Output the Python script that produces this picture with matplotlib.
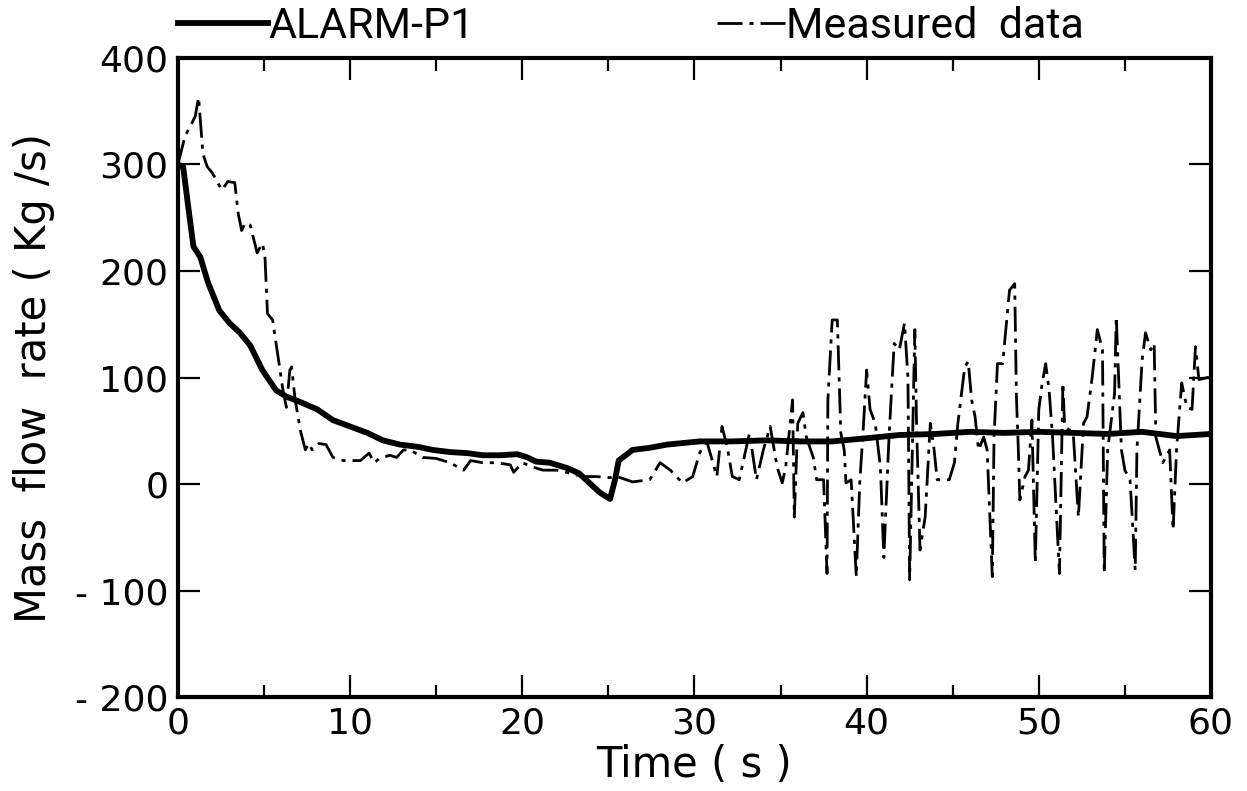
import numpy as np
import matplotlib
matplotlib.use("Agg")
import matplotlib.pyplot as plt
from matplotlib.ticker import MultipleLocator, FixedLocator, FixedFormatter

# ALARM-P1 calculation (thick solid line)
alarm_t = [0, 0.3, 0.6, 0.9, 1.3, 1.75, 2.4, 3.0, 3.6, 4.2, 4.9, 5.7, 6.3, 7.1,
           8.1, 9.0, 10.0, 11.0, 11.9, 12.9, 13.9, 14.8, 15.8, 16.8, 17.7, 18.7,
           19.7, 20.3, 20.8, 21.6, 22.6, 23.3, 23.9, 24.5, 24.9, 25.1, 25.4, 25.6,
           26.4, 27.4, 28.4, 30.3, 32.2, 34.2, 36.1, 38.0, 40.0, 41.9, 44, 46, 48,
           50, 52, 54, 56, 58, 60]
alarm_v = [300, 298, 260, 223, 213, 189, 163, 151, 142, 130, 107, 88, 82, 77,
           70, 60, 54, 48, 41, 37, 35, 32, 30, 29, 27, 27,
           28, 25, 21, 20, 15, 10, 1, -8, -12, -14, 5, 22,
           32, 34, 37, 40, 40, 41, 40, 40, 43, 46, 47, 49, 48,
           49, 48, 47, 49, 45, 47]

# measured data (dash-dot line)
meas_t = [0, 0.4, 1.0, 1.2, 1.45, 1.7, 2.0, 2.55, 2.9, 3.3, 3.5, 3.7, 3.9, 4.2,
          4.6, 4.9, 5.05, 5.2, 5.5, 5.7, 6.1, 6.3, 6.5, 6.6, 6.8, 7.1, 7.4, 7.6,
          7.8, 8.2, 8.6, 9.0, 9.6, 10.6, 11.1, 11.4, 11.7, 12.3, 12.7, 13.1, 13.5,
          14.2, 15.0, 15.8, 16.6, 17.0, 17.7, 18.5, 19.3, 19.5, 20.0, 20.6, 21.2,
          22.0, 22.8, 23.5, 24.3, 25.1, 25.5, 26.4, 27.4, 28.0, 28.6, 29.3, 29.9,
          30.3, 30.7, 31.3, 31.6, 31.9, 32.2, 32.6, 33.2, 33.6, 34.0, 34.4, 34.8,
          35.1, 35.3, 35.7, 35.8, 36.0, 36.3, 36.5, 36.9, 37.1, 37.5, 37.7, 37.75,
          38.0, 38.3, 38.5, 38.7, 38.8, 39.1, 39.4, 39.6, 39.8, 40.0, 40.2, 40.5,
          40.8, 41.0, 41.3, 41.6, 41.9, 42.2, 42.4, 42.5, 42.8, 42.9, 43.1, 43.4,
          43.7, 43.9, 44.1, 44.8, 45.1, 45.3, 45.7, 45.9, 46.1, 46.3, 46.5, 46.8,
          47.0, 47.3, 47.4, 47.6, 47.9, 48.1, 48.3, 48.6, 48.7, 48.8, 48.9, 49.2,
          49.4, 49.6, 49.8, 50.0, 50.2, 50.4, 50.6, 50.8, 51.2, 51.4, 51.5, 52.0,
          52.3, 52.6, 52.8, 53.1, 53.4, 53.7, 53.8, 54.0, 54.4, 54.5, 54.8, 55.0,
          55.3, 55.6, 55.7, 56.0, 56.2, 56.5, 56.7, 56.8, 57.2, 57.6, 57.8, 58.0,
          58.3, 58.6, 58.9, 59.1, 59.3, 59.8, 60.0]
meas_v = [300, 326, 345, 363, 310, 298, 292, 276, 284, 283, 254, 238, 245, 243,
          217, 226, 215, 160, 154, 132, 88, 72, 107, 110, 80, 51, 32, 38,
          32, 38, 37, 25, 22, 22, 29, 20, 24, 27, 25, 32, 32,
          25, 24, 20, 13, 22, 20, 20, 18, 11, 20, 16, 13,
          13, 10, 7, 7, 6, 7, 2, 4, 20, 13, 1, 7,
          29, 41, 7, 54, 35, 7, 4, 48, 4, 32, 54, 16,
          1, 16, 79, -31, 57, 67, 44, 25, 4, 4, -84, 79,
          154, 154, 48, 32, 1, 4, -87, 1, 51, 107, 70, 57,
          16, -69, 44, 132, 126, 151, 100, -90, 145, 57, -62, -31,
          57, 35, 4, 4, 20, 57, 110, 115, 79, 63, 32, 44,
          32, -87, 44, 113, 113, 147, 182, 188, 82, 38, -15, 7,
          13, 60, -74, 70, 95, 113, 88, 44, -84, 95, 54, 48,
          -31, 57, 63, 100, 145, 126, -84, 32, 85, 157, 32, 13,
          4, -81, 32, 116, 142, 126, 132, 44, 20, 32, -43, 32,
          95, 72, 70, 129, 98, 100, 100]

yticks = [400, 300, 200, 100, 0, -100, -200]
ytick_labels = ["400", "300", "200", "100", "0", "- 100", "- 200"]
xticks = [0, 10, 20, 30, 40, 50, 60]

plt.rcParams['font.family'] = ['DejaVu Sans']

fig = plt.figure(figsize=(12.47, 7.91), dpi=100)
ax = fig.add_axes([0.1427, 0.1188, 0.8284, 0.8079])

l1, = ax.plot(alarm_t, alarm_v, color='black', lw=4.2, solid_joinstyle='round',
              label='ALARM-P1')
l2, = ax.plot(meas_t, meas_v, color='black', lw=2.0, dashes=(9, 2.5, 1.5, 2.5),
              label='Measured  data')

ax.set_xlim(0, 60)
ax.set_ylim(-200, 400)
ax.xaxis.set_major_locator(FixedLocator(xticks))
ax.xaxis.set_minor_locator(MultipleLocator(5))
ax.yaxis.set_major_locator(FixedLocator(yticks))
ax.yaxis.set_major_formatter(FixedFormatter(ytick_labels))

ax.tick_params(axis='both', which='major', direction='in', top=True, right=True,
               length=16, width=1.6, labelsize=26, pad=7)
ax.tick_params(axis='x', which='minor', direction='in', top=True,
               length=9, width=1.6)
for s in ax.spines.values():
    s.set_linewidth(3)

ax.set_xlabel("Time ( s )", fontsize=30, labelpad=2)
ax.set_ylabel("Mass  flow  rate ( Kg /s)", fontsize=30, labelpad=14)

leg_font = {'family': ['Roboto', 'DejaVu Sans'], 'size': 31}
leg1 = ax.legend(handles=[l1], loc='upper left', bbox_to_anchor=(0.0, 1.082),
                 frameon=False, prop=leg_font, handlelength=2.1,
                 handletextpad=0.0, borderaxespad=0, borderpad=0)
ax.add_artist(leg1)
ax.legend(handles=[l2], loc='upper left', bbox_to_anchor=(0.522, 1.082),
          frameon=False, prop=leg_font, handlelength=1.6,
          handletextpad=0.0, borderaxespad=0, borderpad=0)

fig.savefig("out.png", dpi=100)
